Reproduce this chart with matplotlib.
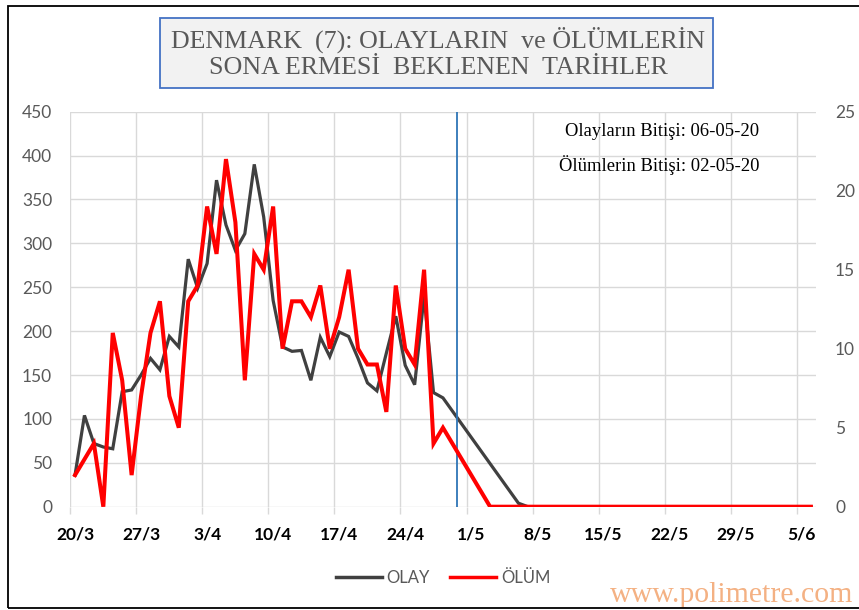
import pandas as pd
import matplotlib.pyplot as plt
from matplotlib.lines import Line2D
from matplotlib.patches import Rectangle

# Daily values, starting 20/3/2020
start_date = '2020-03-20'
olay = [36, 104, 72, 68, 66, 131, 133, 150, 169, 156,
        194, 182, 282, 249, 277, 372, 321, 292, 311, 390,
        330, 235, 182, 177, 178, 144, 193, 171, 199, 194,
        169, 141, 132, 175, 217, 161, 139, 240, 130, 124,
        109, 94, 79, 64, 49, 34, 19, 4] + [0] * 31
olum = [2, 3, 4, 0, 11, 8, 2, 7, 11, 13,
        7, 5, 13, 14, 19, 16, 22, 18, 8, 16,
        15, 19, 10, 13, 13, 12, 14, 10, 12, 15,
        10, 9, 9, 6, 14, 10, 9, 15, 4, 5,
        4, 3, 2, 1] + [0] * 35
cutoff_day = 40.45   # blue marker line, just before 1/5

dates = pd.date_range(start_date, periods=len(olay), freq='D')
x = list(range(len(olay)))
tick_pos = x[::7]
tick_labels = [f'{d.day}/{d.month}' for d in dates[::7]]

sans = 'Lato'
serif = 'Liberation Serif'
grey_txt = '#595959'

fig = plt.figure(figsize=(8.59, 6.10), dpi=100)
ax = fig.add_axes([70.3 / 859, 103.3 / 610, (815.6 - 70.3) / 859, (506.7 - 111.7) / 610])
ax2 = ax.twinx()

ax.plot(x, olay, color='#404040', lw=2.3, solid_joinstyle='miter', zorder=3)
ax2.plot(x, olum, color='#ff0000', lw=2.9, solid_joinstyle='miter', zorder=3)
ax.axvline(cutoff_day, color='#2e75b6', lw=1.3, zorder=4)

ax.set_xlim(-0.5, len(olay) - 0.5)
ax.set_ylim(0, 450)
ax2.set_ylim(0, 25)
ax.set_yticks(range(0, 451, 50))
ax2.set_yticks(range(0, 26, 5))

ax.set_xticks(tick_pos)
ax.set_xticklabels(tick_labels, fontfamily=sans, fontweight='bold', fontsize=12.5, color='black')
ax.set_xticks([p - 0.5 for p in tick_pos], minor=True)
ax.tick_params(axis='x', which='major', length=0, pad=14)
ax.tick_params(axis='x', which='minor', length=5, color='#d9d9d9', width=1)
ax.tick_params(axis='y', length=0, pad=13, labelsize=12.5, labelcolor=grey_txt)
ax2.tick_params(axis='y', length=0, pad=14, labelsize=12.5, labelcolor=grey_txt)
for lab in ax.get_yticklabels() + ax2.get_yticklabels():
    lab.set_fontfamily(sans)

ax.grid(axis='y', color='#d9d9d9', lw=1)
ax.grid(axis='x', which='minor', color='#d9d9d9', lw=1)
for a in (ax, ax2):
    for s in a.spines.values():
        s.set_visible(False)
ax.set_axisbelow(True)

# end-date notes
ax.text(0.794, 0.951, 'Olayların Bitişi: 06-05-20', transform=ax.transAxes,
        ha='center', va='center', fontfamily=serif, fontsize=13.4, color='black', zorder=5)
ax.text(0.790, 0.864, 'Ölümlerin Bitişi: 02-05-20', transform=ax.transAxes,
        ha='center', va='center', fontfamily=serif, fontsize=13.4, color='black', zorder=5)

# title box
fig.patches.append(Rectangle((160 / 859, 1 - 88 / 610), 553 / 859, 70 / 610,
                             transform=fig.transFigure, facecolor='#f2f2f2',
                             edgecolor='#4472c4', lw=1.3))
fig.text(438 / 859, 1 - 40 / 610, 'DENMARK  (7): OLAYLARIN  ve ÖLÜMLERİN',
         ha='center', va='center', fontfamily=serif, fontsize=18.7, color=grey_txt)
fig.text(438 / 859, 1 - 68 / 610, 'SONA ERMESİ  BEKLENEN  TARİHLER',
         ha='center', va='center', fontfamily=serif, fontsize=18.7, color=grey_txt)

# legend
handles = [Line2D([], [], color='#404040', lw=2.5), Line2D([], [], color='#ff0000', lw=2.5)]
leg = fig.legend(handles, ['OLAY', 'ÖLÜM'], loc='center', bbox_to_anchor=(443 / 859, 1 - 578 / 610),
                 ncol=2, frameon=False, handlelength=2.75, handletextpad=0.3, columnspacing=1.2,
                 prop={'family': sans, 'size': 12})
for t in leg.get_texts():
    t.set_color(grey_txt)

# watermark
fig.text(610 / 859, 1 - 595 / 610, 'www.polimetre.com', ha='left', va='center',
         fontfamily=serif, fontsize=21.5, color='#f4b183')

# outer frame
fig.patches.append(Rectangle((8 / 859, 2 / 610), 0.995, 602 / 610, transform=fig.transFigure,
                             facecolor='none', edgecolor='black', lw=1.3, zorder=10))

fig.savefig('out.png', dpi=100)
